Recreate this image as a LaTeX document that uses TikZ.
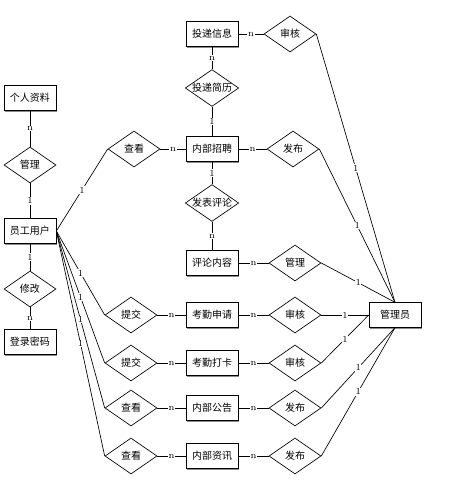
\documentclass[tikz,border=0pt]{standalone}
\usepackage{fontspec}
\newfontfamily\cjk{Noto Sans CJK SC}
\usetikzlibrary{shapes.geometric,shadows}

\begin{document}
\begin{tikzpicture}[x=0.75pt,y=-0.75pt,-,line width=0.5pt,
		entity/.style={rectangle,draw,fill=white,minimum width=39pt,minimum height=18.5pt,inner sep=0pt,
			font=\cjk\fontsize{7.5}{9}\selectfont,
			drop shadow={shadow xshift=1.1pt,shadow yshift=-1.1pt,fill=black!45,opacity=1}},
		relation/.style={diamond,draw,fill=white,aspect=1.45,minimum width=39pt,minimum height=27pt,inner sep=0pt,
			font=\cjk\fontsize{7.5}{9}\selectfont}]
		
		\useasboundingbox (0,0) rectangle (461,490);
		
		% entities
		\node[entity] (tdxx) at (212,34) {投递信息};
		\node[entity] (grzl) at (30,98) {个人资料};
		\node[entity] (nbzp) at (212,149) {内部招聘};
		\node[entity] (ygyh) at (30,231) {员工用户};
		\node[entity] (plnr) at (212,263) {评论内容};
		\node[entity] (kqsq) at (212,315) {考勤申请};
		\node[entity] (dlmm) at (30,342) {登录密码};
		\node[entity] (kqdk) at (212,363) {考勤打卡};
		\node[entity] (nbgg) at (212,408) {内部公告};
		\node[entity] (nbzx) at (212,456) {内部资讯};
		\node[entity] (gly) at (395,315) {管理员};
		
		% relations
		\node[relation] (sh1) at (290,34) {审核};
		\node[relation] (tdjl) at (212,88) {投递简历};
		\node[relation] (gl1) at (30,165) {管理};
		\node[relation] (ck1) at (134,149) {查看};
		\node[relation] (fb1) at (293,149) {发布};
		\node[relation] (fbpl) at (212,203) {发表评论};
		\node[relation] (xg) at (30,289) {修改};
		\node[relation] (gl2) at (295,263) {管理};
		\node[relation] (tj1) at (131,315) {提交};
		\node[relation] (sh2) at (295,315) {审核};
		\node[relation] (tj2) at (131,363) {提交};
		\node[relation] (sh3) at (295,363) {审核};
		\node[relation] (ck2) at (131,408) {查看};
		\node[relation] (fb2) at (295,408) {发布};
		\node[relation] (ck3) at (131,456) {查看};
		\node[relation] (fb3) at (295,456) {发布};
		
		\path[every node/.style={font=\fontsize{7}{8}\selectfont,fill=white,inner sep=0.5pt}]
		(tdxx) edge node {n} (sh1)
		(tdxx) edge node {n} (tdjl)
		(tdjl) edge node {1} (nbzp)
		(grzl) edge node {n} (gl1)
		(gl1) edge node {1} (ygyh)
		(ygyh) edge node {1} (xg)
		(xg) edge node {n} (dlmm)
		(ck1) edge node {n} (nbzp)
		(nbzp) edge node {n} (fb1)
		(nbzp) edge node {1} (fbpl)
		(fbpl) edge node {n} (plnr)
		(plnr) edge node {n} (gl2)
		(tj1) edge node {n} (kqsq)
		(kqsq) edge node {n} (sh2)
		(tj2) edge node {n} (kqdk)
		(kqdk) edge node {n} (sh3)
		(ck2) edge node {n} (nbgg)
		(nbgg) edge node {n} (fb2)
		(ck3) edge node {n} (nbzx)
		(nbzx) edge node {n} (fb3)
		(ygyh.east) edge node {1} (ck1.west)
		(ygyh.east) edge node {1} (tj1.west)
		(ygyh.east) edge node {1} (tj2.west)
		(ygyh.east) edge node {1} (ck2.west)
		(ygyh.east) edge node {1} (ck3.west)
		(sh1.east) edge node {1} (gly.north)
		(fb1.east) edge node {1} (gly.north)
		(gl2.east) edge node {1} (gly.north)
		(sh2) edge node {1} (gly)
		(sh3.east) edge node {1} (gly.west)
		(fb2.east) edge node {1} (gly.south)
		(fb3.east) edge node {1} (gly.south)
		;
\end{tikzpicture}
\end{document}
